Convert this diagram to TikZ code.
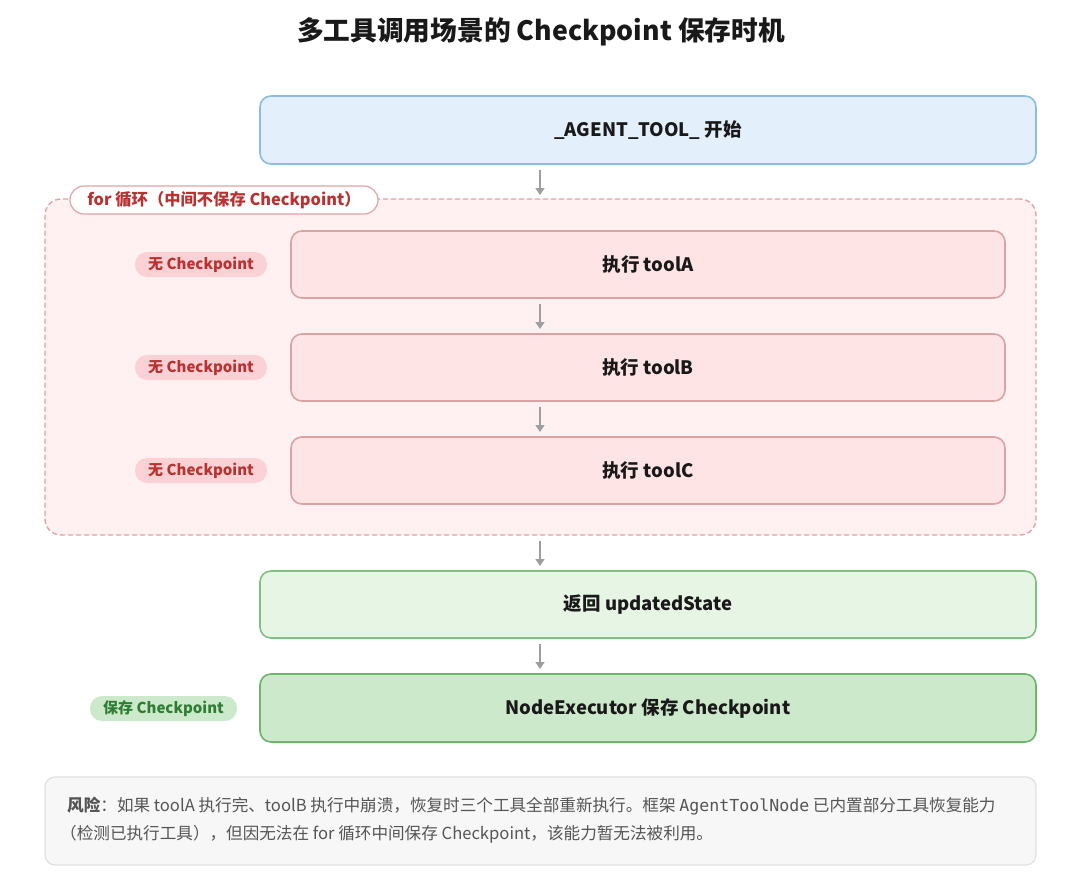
\documentclass[tikz,border=0pt]{standalone}
\usepackage{fontspec}
\setmainfont{Noto Sans CJK SC}
\newfontfamily\monof{DejaVu Sans Mono}
\usetikzlibrary{arrows.meta}
\definecolor{bluefill}{HTML}{E3F0FB}
\definecolor{blueline}{HTML}{8DBCDF}
\definecolor{loopfill}{HTML}{FFF1F2}
\definecolor{loopline}{HTML}{DFA3A6}
\definecolor{toolfill}{HTML}{FFE4E6}
\definecolor{toolline}{HTML}{D9A2A5}
\definecolor{pillred}{HTML}{FAD2D5}
\definecolor{redtext}{HTML}{B83232}
\definecolor{greenfill}{HTML}{E7F5E5}
\definecolor{greenline}{HTML}{80C080}
\definecolor{dgreenfill}{HTML}{CDE9CB}
\definecolor{dgreenline}{HTML}{6DB46D}
\definecolor{greentext}{HTML}{2E7D32}
\definecolor{riskfill}{HTML}{F7F7F7}
\definecolor{riskline}{HTML}{E0E0E0}
\definecolor{risktext}{HTML}{555555}
\definecolor{arrowc}{HTML}{9E9E9E}
\begin{document}
\begin{tikzpicture}[x=1pt,y=-1pt,
  box/.style={draw, line width=1.6pt, rounded corners=11pt, text=black!90, font=\fontsize{18.5}{21}\selectfont\bfseries},
  pill/.style={rounded corners=12pt, font=\fontsize{15}{17}\selectfont\bfseries, inner sep=0pt},
  flow/.style={draw=arrowc, line width=1.6pt, -{Triangle[length=7pt,width=9pt]}}
]
\useasboundingbox (0,0) rectangle (1080,894);
\fill[white] (0,0) rectangle (1080,894);
% title
\node[font=\fontsize{26.7}{30}\selectfont\bfseries, text=black!90] (title) at (541,32) {多工具调用场景的 Checkpoint 保存时机};
% start
\node[box, draw=blueline, fill=bluefill, minimum width=776pt, minimum height=68pt] (start) at (648,130) {\_AGENT\_TOOL\_ 开始};
% loop region
\node[draw=loopline, fill=loopfill, dashed, dash pattern=on 5pt off 3pt, line width=1.4pt, rounded corners=16pt, minimum width=991pt, minimum height=336pt] (loop) at (540.5,367) {};
\node[draw=loopline, fill=white, line width=1.2pt, rounded corners=14pt, minimum width=308pt, minimum height=28pt, inner sep=0pt, text=redtext, font=\fontsize{16.3}{18}\selectfont\bfseries] (looplabel) at (224,200) {for 循环（中间不保存 Checkpoint）};
% tools
\node[box, draw=toolline, fill=toolfill, minimum width=714pt, minimum height=67pt] (ta) at (648,264.5) {执行 toolA};
\node[box, draw=toolline, fill=toolfill, minimum width=714pt, minimum height=67pt] (tb) at (648,367.5) {执行 toolB};
\node[box, draw=toolline, fill=toolfill, minimum width=714pt, minimum height=67pt] (tc) at (648,470.5) {执行 toolC};
\node[pill, fill=pillred, text=redtext, minimum width=132pt, minimum height=25pt] (pa) at (201,264.5) {无 Checkpoint};
\node[pill, fill=pillred, text=redtext, minimum width=132pt, minimum height=25pt] (pb) at (201,367.5) {无 Checkpoint};
\node[pill, fill=pillred, text=redtext, minimum width=132pt, minimum height=25pt] (pc) at (201,470.5) {无 Checkpoint};
% return
\node[box, draw=greenline, fill=greenfill, minimum width=776pt, minimum height=67pt] (ret) at (648,604.5) {返回 updatedState};
\node[box, draw=dgreenline, fill=dgreenfill, minimum width=776pt, minimum height=68pt] (save) at (648,708) {NodeExecutor 保存 Checkpoint};
\node[pill, fill=dgreenfill, text=greentext, minimum width=147pt, minimum height=25pt] (ps) at (163.5,708.5) {保存 Checkpoint};
% arrows
\coordinate (a1s) at (540,170); \coordinate (a1e) at (540,195);
\coordinate (a2s) at (540,304); \coordinate (a2e) at (540,329);
\coordinate (a3s) at (540,407); \coordinate (a3e) at (540,432);
\coordinate (a4s) at (540,541); \coordinate (a4e) at (540,566);
\coordinate (a5s) at (540,644); \coordinate (a5e) at (540,669);
\draw[flow] (a1s) -- (a1e);
\draw[flow] (a2s) -- (a2e);
\draw[flow] (a3s) -- (a3e);
\draw[flow] (a4s) -- (a4e);
\draw[flow] (a5s) -- (a5e);
% risk
\node[draw=riskline, fill=riskfill, line width=1.2pt, rounded corners=10pt, minimum width=991pt, minimum height=88pt] (risk) at (540.5,821) {};
\node[anchor=west, text=risktext, font=\fontsize{16.6}{19}\selectfont, inner sep=0pt] (r1) at (67,806) {\textbf{风险}：如果 toolA 执行完、toolB 执行中崩溃，恢复时三个工具全部重新执行。框架 {\monof AgentToolNode} 已内置部分工具恢复能力};
\node[anchor=west, text=risktext, font=\fontsize{16.6}{19}\selectfont, inner sep=0pt] (r2) at (60,834) {（检测已执行工具），但因无法在 for 循环中间保存 Checkpoint，该能力暂无法被利用。};
\end{tikzpicture}
\end{document}
